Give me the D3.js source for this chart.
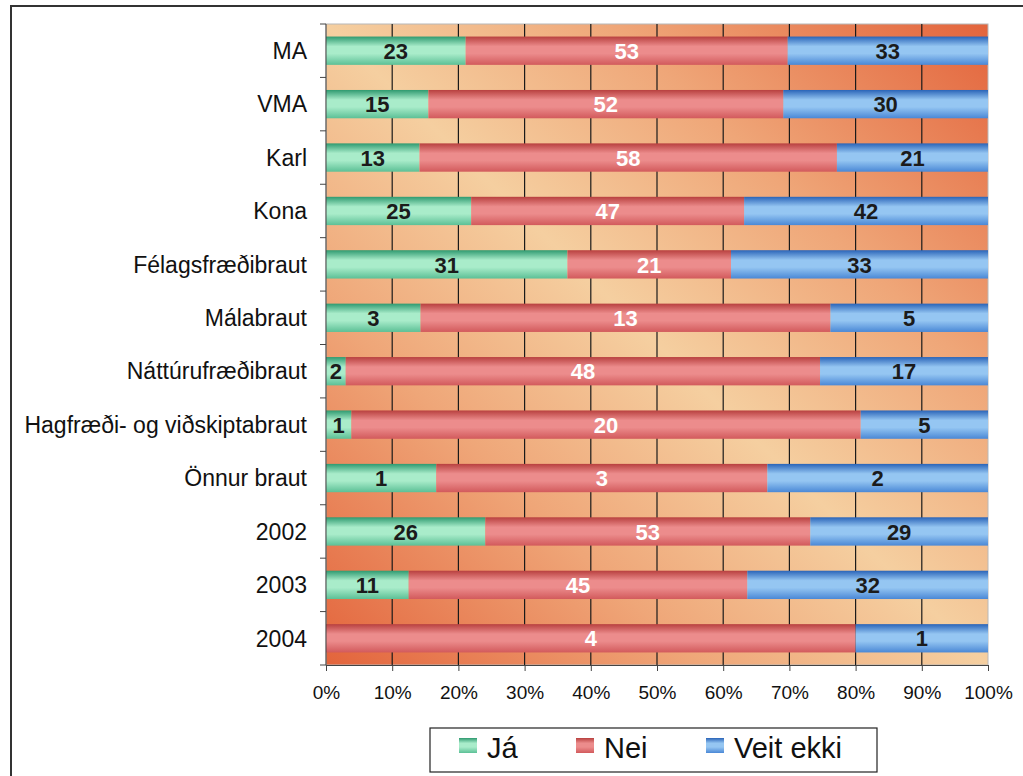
<!DOCTYPE html>
<html>
<head>
<meta charset="utf-8">
<script src="https://cdn.jsdelivr.net/npm/d3@7"></script>
<style>
body { margin: 0; background: #fff; }
svg { display: block; font-family: "Liberation Sans", Arial, sans-serif; }
</style>
</head>
<body>
<svg id="chart" width="1023" height="776"></svg>
<script>
let categories = ['MA', 'VMA', 'Karl', 'Kona', 'Félagsfræðibraut', 'Málabraut', 'Náttúrufræðibraut',
	'Hagfræði- og viðskiptabraut', 'Önnur braut', '2002', '2003', '2004'];
let seriesNames = ['Já', 'Nei', 'Veit ekki'];
let ja = [23, 15, 13, 25, 31, 3, 2, 1, 1, 26, 11, 0];
let nei = [53, 52, 58, 47, 21, 13, 48, 20, 3, 53, 45, 4];
let veitEkki = [33, 30, 21, 42, 33, 5, 17, 5, 2, 29, 32, 1];
let tickLabels = ['0%', '10%', '20%', '30%', '40%', '50%', '60%', '70%', '80%', '90%', '100%'];

let colors = {
	'Já': ['#2f9a70', '#a9ecca', '#5cc096'],
	'Nei': ['#b8403f', '#ec8c8c', '#d25a5c'],
	'Veit ekki': ['#2a64b8', '#95c6f2', '#4a88d6']
};
let textColors = { 'Já': '#1b1b1b', 'Nei': '#ffffff', 'Veit ekki': '#1b1b1b' };

let rows = categories.map(function(c, i) {
	return { cat: c, 'Já': ja[i], 'Nei': nei[i], 'Veit ekki': veitEkki[i] };
});

let svg = d3.select('#chart');
let plotLeft = 326, plotRight = 988, plotTop = 24, plotBottom = 665;

let x = d3.scaleLinear().domain([0, 1]).range([plotLeft, plotRight]);
let y = d3.scaleBand().domain(categories).range([plotTop, plotBottom]).paddingInner(0.47).paddingOuter(0.235);

let defs = svg.append('defs');

// background gradient
let bg = defs.append('linearGradient')
	.attr('id', 'bg')
	.attr('x1', 1).attr('y1', 0).attr('x2', 0).attr('y2', 1);
bg.append('stop').attr('offset', 0).attr('stop-color', '#e3643c');
bg.append('stop').attr('offset', 0.28).attr('stop-color', '#efa678');
bg.append('stop').attr('offset', 0.5).attr('stop-color', '#f5cfa0');
bg.append('stop').attr('offset', 0.72).attr('stop-color', '#efa678');
bg.append('stop').attr('offset', 1).attr('stop-color', '#e3643c');

seriesNames.forEach(function(s, i) {
	let g = defs.append('linearGradient')
		.attr('id', 'g' + i)
		.attr('x1', 0).attr('y1', 0).attr('x2', 0).attr('y2', 1);
	g.append('stop').attr('offset', 0).attr('stop-color', colors[s][0]);
	g.append('stop').attr('offset', 0.35).attr('stop-color', colors[s][1]);
	g.append('stop').attr('offset', 0.6).attr('stop-color', colors[s][1]);
	g.append('stop').attr('offset', 1).attr('stop-color', colors[s][2]);
});

// outer frame
svg.append('rect')
	.attr('x', 11).attr('y', 6)
	.attr('width', 1040).attr('height', 800)
	.attr('fill', 'none')
	.attr('stroke', '#333')
	.attr('stroke-width', 2);

// plot background
svg.append('rect')
	.attr('x', plotLeft).attr('y', plotTop)
	.attr('width', plotRight - plotLeft).attr('height', plotBottom - plotTop)
	.attr('fill', 'url(#bg)')
	.attr('stroke', '#b8b8b8')
	.attr('stroke-width', 1);

// grid
svg.append('g')
	.selectAll('line')
	.data(d3.range(1, 10).map(d => d / 10))
	.enter()
	.append('line')
	.attr('x1', d => x(d)).attr('x2', d => x(d))
	.attr('y1', plotTop).attr('y2', plotBottom)
	.attr('stroke', '#1a1a1a')
	.attr('stroke-width', 1.2);

let stack = d3.stack().keys(seriesNames).offset(d3.stackOffsetExpand);
let stacked = stack(rows);

let layers = svg.append('g')
	.selectAll('g')
	.data(stacked)
	.enter()
	.append('g')
	.attr('fill', (d, i) => 'url(#g' + i + ')');

layers.selectAll('rect')
	.data(d => d)
	.enter()
	.append('rect')
	.attr('x', d => x(d[0]))
	.attr('y', d => y(d.data.cat))
	.attr('width', d => x(d[1]) - x(d[0]))
	.attr('height', y.bandwidth());

// value labels
stacked.forEach(function(layer) {
	svg.append('g')
		.selectAll('text')
		.data(layer.filter(d => d.data[layer.key] > 0))
		.enter()
		.append('text')
		.attr('x', d => (x(d[0]) + x(d[1])) / 2)
		.attr('y', d => y(d.data.cat) + y.bandwidth() / 2)
		.attr('dy', '0.37em')
		.attr('text-anchor', 'middle')
		.attr('font-size', 22)
		.attr('font-weight', 'bold')
		.attr('fill', textColors[layer.key])
		.text(d => d.data[layer.key]);
});

// y axis
let yAxis = svg.append('g')
	.attr('transform', 'translate(' + plotLeft + ',0)');
yAxis.append('line')
	.attr('x1', 0).attr('x2', 0)
	.attr('y1', plotTop).attr('y2', plotBottom)
	.attr('stroke', '#444');
yAxis.selectAll('line.tick')
	.data(d3.range(13))
	.enter()
	.append('line')
	.attr('class', 'tick')
	.attr('x1', -6).attr('x2', 0)
	.attr('y1', i => plotTop + i * (plotBottom - plotTop) / 12)
	.attr('y2', i => plotTop + i * (plotBottom - plotTop) / 12)
	.attr('stroke', '#444');
yAxis.selectAll('text')
	.data(categories)
	.enter()
	.append('text')
	.attr('x', -19)
	.attr('y', d => y(d) + y.bandwidth() / 2)
	.attr('dy', '0.36em')
	.attr('text-anchor', 'end')
	.attr('font-size', 23)
	.attr('fill', '#111')
	.text(d => d);

// x axis
let xAxis = d3.axisBottom(x)
	.tickValues(d3.range(0, 11).map(d => d / 10))
	.tickFormat((d, i) => tickLabels[i])
	.tickSize(6)
	.tickPadding(15);
let xg = svg.append('g')
	.attr('transform', 'translate(0,' + plotBottom + ')')
	.call(xAxis);
xg.select('.domain').attr('stroke', '#444');
xg.selectAll('.tick line').attr('stroke', '#444');
xg.selectAll('.tick text')
	.attr('font-size', 19)
	.attr('fill', '#111')
	.attr('font-family', '"Liberation Sans", Arial, sans-serif');

// legend
let legend = svg.append('g');
legend.append('rect')
	.attr('x', 430).attr('y', 728)
	.attr('width', 447).attr('height', 44)
	.attr('fill', '#fff')
	.attr('stroke', '#222')
	.attr('stroke-width', 1.2);
let legendX = [459, 576, 706];
seriesNames.forEach(function(s, i) {
	legend.append('rect')
		.attr('x', legendX[i]).attr('y', 738)
		.attr('width', 18).attr('height', 15)
		.attr('fill', 'url(#g' + i + ')');
	legend.append('text')
		.attr('x', legendX[i] + 28).attr('y', 758)
		.attr('font-size', 29)
		.attr('fill', '#111')
		.text(s);
});
</script>
</body>
</html>
